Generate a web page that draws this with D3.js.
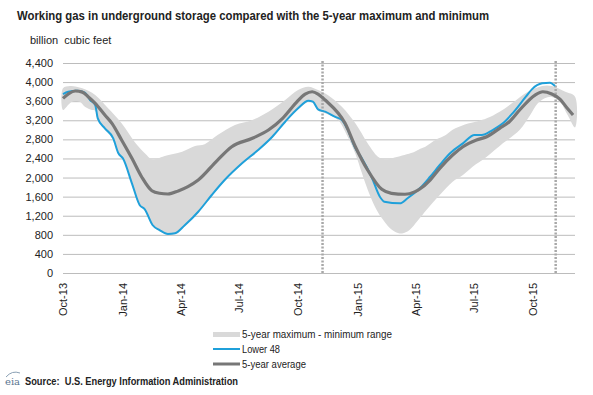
<!DOCTYPE html>
<html lang="en">
<head>
  <meta charset="UTF-8">
  <title>Working gas in underground storage</title>
  <script src="https://d3js.org/d3.v7.min.js"></script>
  <style>
    body { margin: 0; background: #fff; font-family: "Liberation Sans", Arial, sans-serif; }
    svg text { fill: #222; white-space: pre; }
    .tick text { font-size: 11px; }
    .legend-label { font-size: 10.5px; }
  </style>
</head>
<body>
  <svg width="593" height="395"></svg>

  <script>
    // 5-year average
    const avgDates = ["2013-10-01","2013-10-10","2013-10-20","2013-10-31","2013-11-09","2013-11-20","2013-12-05","2013-12-16","2013-12-31","2014-01-16","2014-01-31","2014-02-16","2014-02-28","2014-03-13","2014-03-29","2014-04-13","2014-04-29","2014-05-29","2014-06-20","2014-07-22","2014-08-16","2014-09-07","2014-09-27","2014-10-12","2014-10-23","2014-11-01","2014-11-12","2014-12-13","2014-12-29","2015-01-17","2015-02-08","2015-02-23","2015-03-16","2015-03-31","2015-04-08","2015-04-24","2015-05-09","2015-05-29","2015-06-14","2015-07-05","2015-07-21","2015-08-10","2015-08-25","2015-09-10","2015-10-04","2015-10-16","2015-10-30","2015-11-12","2015-11-23","2015-12-02"];
    const avgValues = [3660,3760,3813,3790,3694,3555,3310,3136,2786,2403,2017,1724,1670,1655,1720,1810,1948,2367,2646,2822,2996,3241,3555,3750,3798,3750,3624,3136,2646,2158,1753,1670,1650,1700,1760,1948,2193,2472,2646,2786,2856,3031,3170,3415,3729,3798,3750,3639,3450,3310];

    // Lower 48
    const l48Dates = ["2013-10-01","2013-10-09","2013-10-23","2013-11-04","2013-11-12","2013-11-20","2013-11-24","2013-12-05","2013-12-18","2013-12-26","2014-01-02","2014-01-16","2014-01-28","2014-02-05","2014-02-17","2014-02-28","2014-03-13","2014-03-24","2014-04-08","2014-04-29","2014-05-20","2014-06-09","2014-07-06","2014-07-31","2014-08-22","2014-09-11","2014-10-01","2014-10-17","2014-10-24","2014-11-01","2014-11-12","2014-11-27","2014-12-08","2014-12-16","2014-12-29","2015-01-08","2015-01-23","2015-02-05","2015-02-12","2015-03-08","2015-03-20","2015-04-08","2015-04-24","2015-05-09","2015-05-25","2015-06-14","2015-07-02","2015-07-13","2015-07-30","2015-08-15","2015-08-30","2015-09-20","2015-09-29","2015-10-15","2015-10-27","2015-11-04"];
    const l48Values = [3750,3798,3819,3777,3624,3520,3241,3031,2822,2508,2403,1879,1425,1334,1006,900,817,832,1000,1284,1634,1948,2298,2577,2856,3170,3450,3610,3589,3429,3380,3275,3205,3031,2612,2403,2017,1599,1494,1460,1565,1774,2017,2263,2508,2717,2891,2891,2996,3136,3345,3700,3848,3974,3987,3918];

    // 5-year maximum
    const maxDates = ["2013-10-01","2013-10-12","2013-10-31","2013-11-20","2013-12-10","2013-12-31","2014-01-20","2014-02-05","2014-02-16","2014-02-25","2014-03-08","2014-04-04","2014-04-24","2014-05-09","2014-05-29","2014-06-25","2014-07-22","2014-08-16","2014-09-11","2014-10-01","2014-10-17","2014-11-01","2014-11-16","2014-12-08","2014-12-29","2015-01-17","2015-02-02","2015-02-12","2015-03-05","2015-03-31","2015-04-08","2015-04-16","2015-05-04","2015-05-17","2015-05-29","2015-06-17","2015-07-07","2015-07-21","2015-08-10","2015-08-29","2015-09-23","2015-10-15","2015-10-30","2015-11-20","2015-12-05"];
    const maxValues = [3870,3918,3870,3729,3450,3136,2751,2508,2382,2400,2451,2541,2661,2700,2891,3101,3205,3380,3624,3834,3903,3834,3729,3484,3136,2717,2437,2382,2437,2541,2600,2640,2800,2880,3000,3110,3180,3241,3380,3555,3798,3918,3918,3798,3694];

    // 5-year minimum
    const minDates = ["2013-10-01","2013-10-09","2013-10-15","2013-10-27","2013-11-04","2013-11-15","2013-11-20","2013-11-24","2013-12-05","2013-12-18","2013-12-26","2014-01-02","2014-01-16","2014-01-28","2014-02-05","2014-02-17","2014-02-28","2014-03-13","2014-03-24","2014-04-08","2014-04-29","2014-05-20","2014-06-09","2014-07-06","2014-07-31","2014-08-22","2014-09-11","2014-10-01","2014-10-17","2014-10-24","2014-11-01","2014-11-12","2014-12-02","2014-12-17","2014-12-29","2015-01-08","2015-01-17","2015-01-28","2015-02-08","2015-02-20","2015-03-05","2015-03-13","2015-03-23","2015-04-05","2015-04-19","2015-05-09","2015-05-29","2015-06-14","2015-06-29","2015-07-21","2015-08-15","2015-09-10","2015-09-26","2015-10-08","2015-10-19","2015-10-30","2015-11-12","2015-11-24","2015-12-05"];
    const minValues = [3415,3520,3589,3589,3484,3415,3400,3220,3010,2800,2490,2385,1860,1405,1315,985,880,800,815,980,1265,1615,1930,2280,2560,2835,3150,3430,3590,3570,3410,3345,3205,2856,2500,2100,1750,1400,1150,950,840,832,900,1100,1330,1634,1913,2053,2227,2437,2717,2996,3300,3550,3660,3690,3580,3300,3050];

    const yTicks = [0,400,800,1200,1600,2000,2400,2800,3200,3600,4000,4400];
    const xTickDates = ["2013-10-01","2014-01-01","2014-04-01","2014-07-01","2014-10-01","2015-01-01","2015-04-01","2015-07-01","2015-10-01"];
    const markerDates = ["2014-11-08","2015-11-05"];
    const legendLabels = ["5-year maximum - minimum range","Lower 48","5-year average"];
    const legendWidths = [150, 38, 64];

    const parse = d3.timeParse("%Y-%m-%d");
    const zip = (ds, vs) => ds.map((d, i) => ({ date: parse(d), value: vs[i] }));

    const avg = zip(avgDates, avgValues);
    const l48 = zip(l48Dates, l48Values);
    const maxS = zip(maxDates, maxValues);
    const minS = zip(minDates, minValues);

    const svg = d3.select("svg");
    const plot = { left: 63, right: 575, top: 63, bottom: 273 };

    const x = d3.scaleTime()
      .domain([parse("2013-10-01"), parse("2015-12-05")])
      .range([plot.left, plot.right]);

    const y = d3.scaleLinear()
      .domain([0, 4400])
      .range([plot.bottom, plot.top]);

    // Title
    svg.append("text")
      .attr("x", 17).attr("y", 20)
      .attr("font-size", "12px").attr("font-weight", "bold")
      .attr("textLength", 472).attr("lengthAdjust", "spacingAndGlyphs")
      .text("Working gas in underground storage compared with the 5-year maximum and minimum");

    svg.append("text")
      .attr("x", 30).attr("y", 44)
      .attr("font-size", "11px")
      .text("billion  cubic feet");

    // Y axis with gridlines
    const yAxis = svg.append("g")
      .attr("transform", `translate(${plot.left},0)`)
      .call(d3.axisLeft(y).tickValues(yTicks).tickFormat(d3.format(",")).tickSize(-(plot.right - plot.left)).tickPadding(10));
    yAxis.select(".domain").remove();
    yAxis.selectAll(".tick line").attr("stroke", "#bcbcbc");
    yAxis.selectAll(".tick text").attr("fill", "#222").attr("font-family", "Liberation Sans, Arial, sans-serif");

    // Band
    const pt = d => [x(d.date), y(d.value)];
    const bandPts = maxS.map(pt).concat(minS.slice().reverse().map(pt));
    svg.append("path")
      .attr("d", d3.line().curve(d3.curveCatmullRomClosed.alpha(0.5))(bandPts))
      .attr("fill", "#d9d9d9");

    // Markers
    svg.selectAll(".marker")
      .data(markerDates)
      .join("line")
      .attr("class", "marker")
      .attr("x1", d => x(parse(d))).attr("x2", d => x(parse(d)))
      .attr("y1", y(4400) - 2).attr("y2", y(0))
      .attr("stroke", "#a8a8a8")
      .attr("stroke-width", 2.5)
      .attr("stroke-dasharray", "2,1.5");

    const line = d3.line()
      .x(d => x(d.date))
      .y(d => y(d.value))
      .curve(d3.curveMonotoneX);

    svg.append("path").datum(l48)
      .attr("d", line)
      .attr("fill", "none")
      .attr("stroke", "#1fa0da")
      .attr("stroke-width", 2);

    svg.append("path").datum(avg)
      .attr("d", line)
      .attr("fill", "none")
      .attr("stroke", "#777777")
      .attr("stroke-width", 3.2);

    // X axis labels
    const xAxis = svg.append("g")
      .attr("transform", `translate(0,${plot.bottom})`)
      .call(d3.axisBottom(x).tickValues(xTickDates.map(parse)).tickFormat(d3.timeFormat("%b-%y")).tickSize(0));
    xAxis.select(".domain").remove();
    xAxis.selectAll(".tick text")
      .attr("fill", "#222")
      .attr("transform", "rotate(-90)")
      .attr("text-anchor", "end")
      .attr("x", -10)
      .attr("y", 0)
      .attr("dy", "0.35em");

    // Legend
    const lg = svg.append("g");
    lg.append("rect")
      .attr("x", 213).attr("y", 332).attr("width", 27).attr("height", 5)
      .attr("fill", "#d9d9d9");
    lg.append("line")
      .attr("x1", 213).attr("x2", 240).attr("y1", 349).attr("y2", 349)
      .attr("stroke", "#1fa0da").attr("stroke-width", 2);
    lg.append("line")
      .attr("x1", 213).attr("x2", 240).attr("y1", 364).attr("y2", 364)
      .attr("stroke", "#777777").attr("stroke-width", 3);
    lg.selectAll(".legend-label")
      .data(legendLabels)
      .join("text")
      .attr("class", "legend-label")
      .attr("x", 242)
      .attr("y", (d, i) => 338 + i * 15)
      .attr("textLength", (d, i) => legendWidths[i])
      .attr("lengthAdjust", "spacingAndGlyphs")
      .text(d => d);

    // Source
    svg.append("path")
      .attr("d", "M6,377 Q12,370 20,373")
      .attr("fill", "none").attr("stroke", "#8aa0b4").attr("stroke-width", 1);
    svg.append("text")
      .attr("x", 5).attr("y", 385)
      .attr("font-size", "10px")
      .attr("font-family", "DejaVu Serif, serif")
      .style("fill", "#5a7690")
      .text("eia");
    svg.append("text")
      .attr("x", 25).attr("y", 385)
      .attr("font-size", "10.5px").attr("font-weight", "bold")
      .attr("textLength", 213).attr("lengthAdjust", "spacingAndGlyphs")
      .text("Source:  U.S. Energy Information Administration");
  </script>
</body>
</html>
